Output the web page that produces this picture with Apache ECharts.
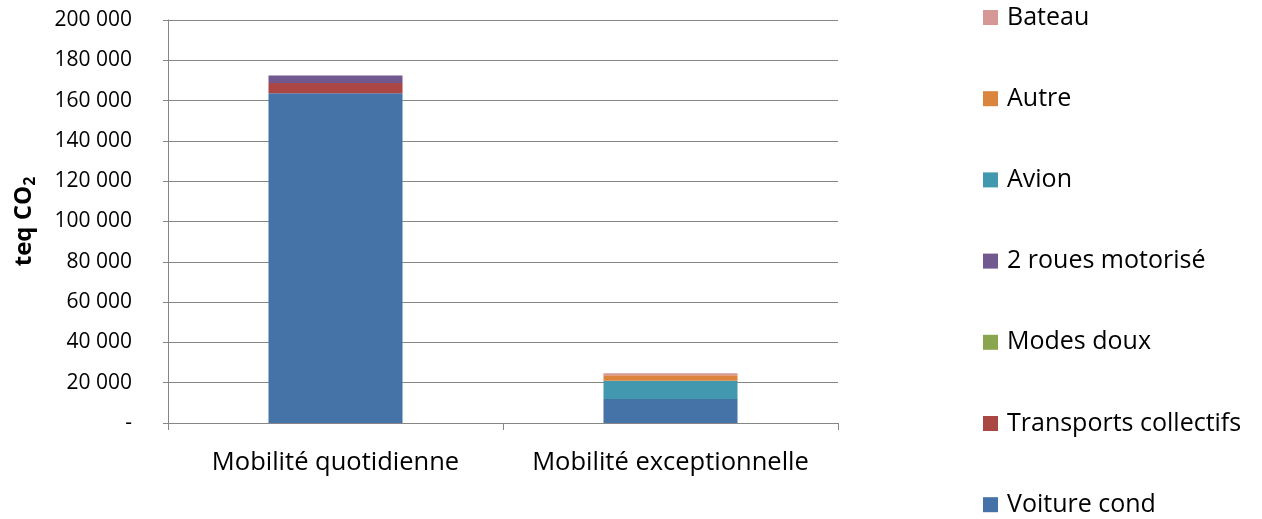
<!DOCTYPE html>
<html>
<head>
<meta charset="utf-8">
<style>
  html, body { margin: 0; padding: 0; background: #fff; }
  #chart { width: 1262px; height: 519px; }
</style>
<script src="https://cdn.jsdelivr.net/npm/echarts@6/dist/echarts.min.js"></script>
</head>
<body>
<div id="chart"></div>
<script>
// Émissions de la mobilité, en tonnes équivalent CO2
const categories = ['Mobilité quotidienne', 'Mobilité exceptionnelle'];
const voitureCond = [163600, 11900];
const transportsCollectifs = [5100, 0];
const modesDoux = [0, 0];
const deuxRoues = [3800, 0];
const avion = [0, 9100];
const autre = [0, 2700];
const bateau = [0, 1000];
const yTicks = [0, 20000, 40000, 60000, 80000, 100000, 120000, 140000, 160000, 180000, 200000];

const FONT = 'Open Sans';
const series = [
  { name: 'Voiture cond', data: voitureCond, color: '#4572A7' },
  { name: 'Transports collectifs', data: transportsCollectifs, color: '#AA4643' },
  { name: 'Modes doux', data: modesDoux, color: '#89A54E' },
  { name: '2 roues motorisé', data: deuxRoues, color: '#71588F' },
  { name: 'Avion', data: avion, color: '#4198AF' },
  { name: 'Autre', data: autre, color: '#DB843D' },
  { name: 'Bateau', data: bateau, color: '#D69896' }
];

function fmt(v) {
  if (v === 0) return '-';
  return String(Math.round(v)).replace(/\B(?=(\d{3})+(?!\d))/g, ' ');
}

const chart = echarts.init(document.getElementById('chart'));
chart.setOption({
  animation: false,
  textStyle: { fontFamily: FONT },
  grid: { left: 168, right: 424, top: 20, bottom: 96 },
  legend: {
    orient: 'vertical',
    left: 983,
    top: 5,
    padding: 0,
    itemWidth: 15,
    itemHeight: 15,
    itemGap: 56.2,
    icon: 'rect',
    textStyle: { fontFamily: FONT, fontSize: 25, color: '#000', padding: [0, 0, 0, 4] },
    data: series.map(s => s.name).reverse()
  },
  xAxis: {
    type: 'category',
    data: categories,
    axisLine: { lineStyle: { color: '#868686', width: 1 } },
    axisTick: { show: true, length: 7, alignWithLabel: false, lineStyle: { color: '#868686' } },
    axisLabel: { fontFamily: FONT, fontSize: 25.5, color: '#000', margin: 27, interval: 0, hideOverlap: false }
  },
  yAxis: {
    type: 'value',
    min: yTicks[0],
    max: yTicks[yTicks.length - 1],
    interval: yTicks[1] - yTicks[0],
    name: '{a|teq CO}{b|2}',
    nameLocation: 'middle',
    nameGap: 130,
    nameRotate: 90,
    nameTextStyle: {
      rich: {
        a: { fontFamily: FONT, fontSize: 24, fontWeight: 'bold', color: '#000' },
        b: { fontFamily: FONT, fontSize: 16, fontWeight: 'bold', color: '#000', padding: [12, 0, 0, 0] }
      }
    },
    axisLine: { show: true, lineStyle: { color: '#868686', width: 1 } },
    axisTick: { show: true, length: 5, lineStyle: { color: '#868686' } },
    splitLine: { show: true, lineStyle: { color: '#868686', width: 1 } },
    axisLabel: { fontFamily: FONT, fontSize: 21, color: '#000', margin: 36, formatter: fmt }
  },
  series: series.map(s => ({
    name: s.name,
    type: 'bar',
    stack: 'total',
    barWidth: '40%',
    data: s.data,
    itemStyle: { color: s.color }
  }))
});
</script>
</body>
</html>
